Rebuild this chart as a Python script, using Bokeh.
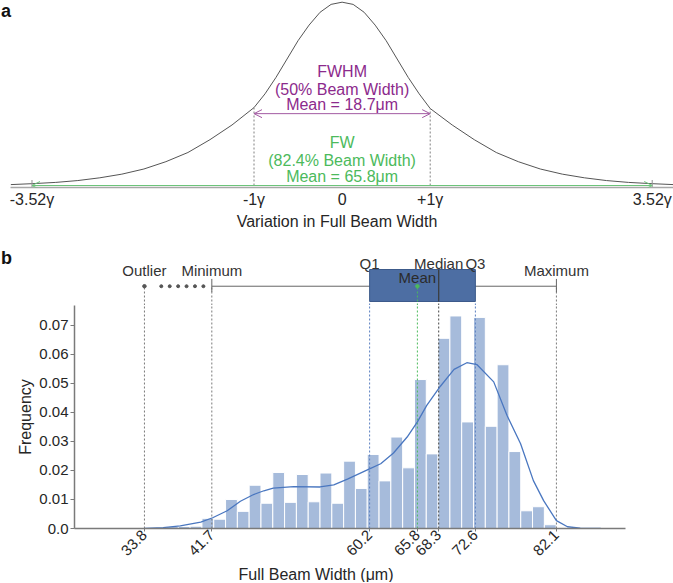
import numpy as np
from bokeh.plotting import figure
from bokeh.models import FixedTicker, Arrow, OpenHead, Range1d, Title
from bokeh.embed import file_html
from bokeh.resources import INLINE
from bokeh.core.properties import value

FONT = "Liberation Sans"

# ---------------- Panel a data ----------------
profile_x = [-3.76, -3.52, -3.25, -3.0, -2.75, -2.5, -2.25, -2.0, -1.75, -1.5, -1.25, -1.0,
             -0.875, -0.75, -0.625, -0.5, -0.375, -0.25, -0.125, 0.0,
             0.125, 0.25, 0.375, 0.5, 0.625, 0.75, 0.875, 1.0, 1.25, 1.5, 1.75, 2.0,
             2.25, 2.5, 2.75, 3.0, 3.25, 3.52, 3.76]
profile_y = [0.005, 0.010, 0.017, 0.027, 0.042, 0.062, 0.090, 0.130, 0.180, 0.250, 0.330, 0.425,
             0.500, 0.590, 0.690, 0.790, 0.875, 0.945, 0.988, 1.0,
             0.988, 0.945, 0.875, 0.790, 0.690, 0.590, 0.500, 0.420, 0.330, 0.250, 0.180, 0.130,
             0.090, 0.062, 0.042, 0.027, 0.017, 0.010, 0.005]
a_ticks = [-3.52, -1.0, 0.0, 1.0, 3.52]
a_tick_labels = ["-3.52\u03b3", "-1\u03b3", "0", "+1\u03b3", "3.52\u03b3"]
fwhm_half = 1.0
fw_half = 3.52
fwhm_lines = ["FWHM", "(50% Beam Width)", "Mean = 18.7\u03bcm"]
fw_lines = ["FW", "(82.4% Beam Width)", "Mean = 65.8\u03bcm"]

# ---------------- Panel b data ----------------
hist_start = 33.62
hist_end = 82.07
hist_heights = [0.0, 0.0, 0.0007, 0.0007, 0.0008, 0.0035,
                0.0032, 0.0100, 0.0059, 0.0149, 0.0087, 0.0193, 0.0090, 0.0186, 0.0092, 0.0191,
                0.0087, 0.0232, 0.0138, 0.0255, 0.0164, 0.0315, 0.0209, 0.0513, 0.0257, 0.0655,
                0.0732, 0.0367, 0.0727, 0.0352, 0.0564, 0.0265, 0.0061, 0.0075, 0.0013]
kde_x = [33.8, 36.0, 38.0, 40.4, 41.8, 43.5, 45.05, 46.6, 47.8, 48.9, 51.3, 54.4, 56.0, 57.6,
         60.0, 61.5, 63.0, 64.6, 65.8, 66.9, 68.5, 70.1, 71.6, 72.8, 74.75, 76.3, 77.9, 79.4,
         80.6, 82.1, 83.4, 84.9, 87.3]
kde_y = [0.0, 0.0003, 0.0009, 0.0022, 0.0037, 0.0061, 0.0094, 0.0117, 0.0130, 0.0139, 0.0144,
         0.0143, 0.0150, 0.0170, 0.0203, 0.0223, 0.0260, 0.0315, 0.0367, 0.0424, 0.0490, 0.0548,
         0.0571, 0.0564, 0.0505, 0.0390, 0.0292, 0.0165, 0.0096, 0.0027, 0.0006, 0.0001, 0.0]
outlier = 33.8
minimum = 41.7
q1 = 60.2
mean = 65.8
median = 68.3
q3 = 72.6
maximum = 82.1
b_ticks = [33.8, 41.7, 60.2, 65.8, 68.3, 72.6, 82.1]
y_tick_vals = [0.0, 0.01, 0.02, 0.03, 0.04, 0.05, 0.06, 0.07]
y_tick_labels = ["0.0", "0.01", "0.02", "0.03", "0.04", "0.05", "0.06", "0.07"]

# ---------------- styles ----------------
TXT = "#262626"
PURPLE = "#8c2a8c"
PURPLE_L = "#a25aa2"
GREEN = "#4cba5c"
GREEN_L = "#6cc47a"
BAR = "#a6bbdb"
KDE = "#4a77c0"
BOX = "#4d6ea3"
BOX_LINE = "#3c5a8a"
GRAY = "#7a7a7a"
QBLUE = "#5a7fc0"
W = 673


def clean(p):
    p.xgrid.visible = False
    p.ygrid.visible = False
    p.outline_line_color = None
    p.background_fill_color = "white"
    p.border_fill_color = "white"


# ================= Panel a =================
A_PX = 88.1     # pixels per gamma
A_C = 341.6     # pixel of gamma = 0
a_x0 = -A_C / A_PX
a_x1 = (W - A_C) / A_PX
a_y0, a_y1 = -0.01085, 1.0092
pa = figure(width=W, height=232, output_backend="svg", toolbar_location=None,
            x_range=Range1d(a_x0, a_x1), y_range=Range1d(a_y0, a_y1), y_axis_location=None,
            min_border_left=0, min_border_right=0, min_border_top=0, min_border_bottom=42)
clean(pa)
ax = pa.xaxis[0]
ax.ticker = FixedTicker(ticks=a_ticks)
ax.major_label_overrides = {t: l for t, l in zip(a_ticks, a_tick_labels)}
ax.bounds = (profile_x[0], profile_x[-1])
ax.major_tick_in = 0
ax.major_tick_out = 0
ax.minor_tick_line_color = None
ax.axis_line_color = "#a8a8a8"
ax.axis_line_width = 1.5
ax.major_label_text_font = FONT
ax.major_label_text_font_size = "16px"
ax.major_label_text_color = TXT
ax.major_label_standoff = 3
ax.axis_label = "Variation in Full Beam Width"
ax.axis_label_text_font = FONT
ax.axis_label_text_font_size = "16px"
ax.axis_label_text_font_style = "normal"
ax.axis_label_text_color = TXT
ax.axis_label_standoff = 2

pa.line(profile_x, profile_y, line_color="#555555", line_width=1)

h1 = [float(np.interp(-fwhm_half, profile_x, profile_y)), float(np.interp(fwhm_half, profile_x, profile_y))]
pa.segment(x0=[-fwhm_half, fwhm_half], y0=[0, 0], x1=[-fwhm_half, fwhm_half], y1=h1,
           line_color="#808080", line_width=1, line_dash="2 2")
pa.segment(x0=[-fw_half, fw_half], y0=[a_y0, a_y0], x1=[-fw_half, fw_half], y1=[0.03, 0.03],
           line_color="#909090", line_width=1)

pa.add_layout(Arrow(start=OpenHead(size=8, line_color=PURPLE_L, line_width=1),
                    end=OpenHead(size=8, line_color=PURPLE_L, line_width=1),
                    x_start=-fwhm_half, x_end=fwhm_half, y_start=0.392, y_end=0.392,
                    line_color=PURPLE_L, line_width=1))
pa.add_layout(Arrow(start=OpenHead(size=8, line_color=GREEN_L, line_width=1),
                    end=OpenHead(size=8, line_color=GREEN_L, line_width=1),
                    x_start=-fw_half, x_end=fw_half, y_start=0.0, y_end=0.0,
                    line_color=GREEN_L, line_width=1.2))

pa.text(x=[0, 0, 0], y=[0.620, 0.5225, 0.4395], text=fwhm_lines, text_font=value(FONT),
        text_font_size="16px", text_color=PURPLE, text_align="center", text_baseline="middle")
pa.text(x=[0, 0, 0], y=[0.2333, 0.1357, 0.0488], text=fw_lines, text_font=value(FONT),
        text_font_size="16px", text_color=GREEN, text_align="center", text_baseline="middle")
pa.text(x=[a_x0 + 0.005], y=[a_y1 - 0.002], text=["a"], text_font=value(FONT), text_font_size="18px",
        text_font_style="bold", text_color="#111111", text_align="left", text_baseline="top")

# ================= Panel b : scales shared by strip and histogram =================
B_LEFT = 74
B_RIGHT = 48
bx0, bx1 = 25.6, 90.2
B_PX = (W - B_LEFT - B_RIGHT) / (bx1 - bx0)

# ---- box-plot strip ----
ps = figure(width=W, height=73, output_backend="svg", toolbar_location=None,
            x_range=Range1d(bx0 - B_LEFT / B_PX, bx1 + B_RIGHT / B_PX), y_range=Range1d(0, 1),
            x_axis_location=None, y_axis_location=None,
            min_border_left=0, min_border_right=0, min_border_top=0, min_border_bottom=0)
clean(ps)
WHISK_Y = 0.264
BOX_B = 0.0548
BOX_T = 0.493

ps.segment(x0=[outlier, minimum, maximum], y0=[0, 0, 0], x1=[outlier, minimum, maximum],
           y1=[WHISK_Y] * 3, line_color=GRAY, line_width=1, line_dash="2 2")
ps.segment(x0=[q1, q3], y0=[0, 0], x1=[q1, q3], y1=[BOX_B] * 2,
           line_color=QBLUE, line_width=1, line_dash="2 2")
ps.segment(x0=[median], y0=[0], x1=[median], y1=[BOX_B],
           line_color="#444444", line_width=1, line_dash="2 2")
ps.segment(x0=[mean], y0=[0], x1=[mean], y1=[BOX_B], line_color=GREEN, line_width=1,
           line_dash="2 2")
ps.segment(x0=[minimum], y0=[WHISK_Y], x1=[maximum], y1=[WHISK_Y], line_color="#666666",
           line_width=1)
ps.segment(x0=[minimum, maximum], y0=[WHISK_Y - 0.08, WHISK_Y - 0.08], x1=[minimum, maximum],
           y1=[WHISK_Y + 0.1, WHISK_Y + 0.1], line_color="#666666", line_width=1)
ps.quad(left=[q1], right=[q3], bottom=[BOX_B], top=[BOX_T], fill_color=BOX, line_color=BOX_LINE,
        line_width=1)
ps.segment(x0=[median], y0=[BOX_B], x1=[median], y1=[BOX_T], line_color="#3a3a3a", line_width=1.2)
ps.segment(x0=[mean], y0=[BOX_B], x1=[mean], y1=[WHISK_Y], line_color=GREEN, line_width=1,
           line_dash="2 2")
ps.scatter(x=[outlier], y=[WHISK_Y], size=3.5, color="#555555")
dots = np.linspace(outlier, minimum, 9)[2:-1]
ps.scatter(x=dots, y=[WHISK_Y] * len(dots), size=3, color="#555555")
ps.scatter(x=[mean], y=[WHISK_Y], size=3.5, color=GREEN)

ps.text(x=[outlier, minimum, maximum], y=[0.479] * 3, text=["Outlier", "Minimum", "Maximum"],
        text_font=value(FONT), text_font_size="15px", text_color="#333333",
        text_align="center", text_baseline="middle")
ps.text(x=[q1, median, q3], y=[0.579] * 3, text=["Q1", "Median", "Q3"],
        text_font=value(FONT), text_font_size="15px", text_color="#333333",
        text_align="center", text_baseline="middle")
ps.text(x=[mean], y=[0.379], text=["Mean"], text_font=value(FONT), text_font_size="15px",
        text_color="#2b2b2b", text_align="center", text_baseline="middle")
ps.text(x=[bx0 - B_LEFT / B_PX + 0.05], y=[0.651], text=["b"], text_font=value(FONT),
        text_font_size="18px", text_font_style="bold", text_color="#111111",
        text_align="left", text_baseline="middle")

# ---- histogram ----
ytop = 0.0768
ph = figure(width=W, height=277, output_backend="svg", toolbar_location=None,
            x_range=Range1d(bx0, bx1), y_range=Range1d(0, ytop),
            min_border_left=B_LEFT, min_border_right=B_RIGHT, min_border_top=0,
            min_border_bottom=54)
clean(ph)

edges = np.linspace(hist_start, hist_end, len(hist_heights) + 1)
ph.quad(left=edges[:-1], right=edges[1:], bottom=0, top=hist_heights,
        fill_color=BAR, line_color="white", line_width=1)

ph.segment(x0=[outlier, minimum, maximum], y0=[0, 0, 0], x1=[outlier, minimum, maximum],
           y1=[ytop] * 3, line_color=GRAY, line_width=1, line_dash="2 2")
ph.segment(x0=[q1, q3], y0=[0, 0], x1=[q1, q3], y1=[ytop, ytop],
           line_color=QBLUE, line_width=1, line_dash="2 2")
ph.segment(x0=[median], y0=[0], x1=[median], y1=[ytop],
           line_color="#444444", line_width=1, line_dash="2 2")
ph.segment(x0=[mean], y0=[0], x1=[mean], y1=[ytop],
           line_color=GREEN, line_width=1, line_dash="2 2")
ph.line(kde_x, kde_y, line_color=KDE, line_width=1.3)

xb = ph.xaxis[0]
xb.ticker = FixedTicker(ticks=b_ticks)
xb.major_label_orientation = np.pi / 4
xb.major_label_text_font = FONT
xb.major_label_text_font_size = "15px"
xb.major_label_text_color = TXT
xb.major_tick_in = 0
xb.major_tick_out = 3
xb.major_tick_line_color = GRAY
xb.minor_tick_line_color = None
xb.axis_line_color = GRAY
xb.axis_line_width = 1.5
xb.major_label_standoff = 1

yb = ph.yaxis[0]
yb.ticker = FixedTicker(ticks=y_tick_vals)
yb.major_label_overrides = {t: l for t, l in zip(y_tick_vals, y_tick_labels)}
yb.major_label_text_font = FONT
yb.major_label_text_font_size = "15px"
yb.major_label_text_color = TXT
yb.major_tick_in = 0
yb.major_tick_out = 4
yb.major_tick_line_color = GRAY
yb.minor_tick_line_color = None
yb.axis_line_color = GRAY
yb.axis_line_width = 1.5
yb.major_label_standoff = 2
yb.axis_label = "Frequency"
yb.axis_label_text_font = FONT
yb.axis_label_text_font_size = "16px"
yb.axis_label_text_font_style = "normal"
yb.axis_label_text_color = TXT
yb.axis_label_standoff = 2

ph.add_layout(Title(text="Full Beam Width (\u03bcm)", align="left", offset=164, standoff=0,
                    text_font=FONT, text_font_size="16px", text_font_style="normal",
                    text_color=TXT), "below")

open("out.html", "w").write(file_html([pa, ps, ph], INLINE))
